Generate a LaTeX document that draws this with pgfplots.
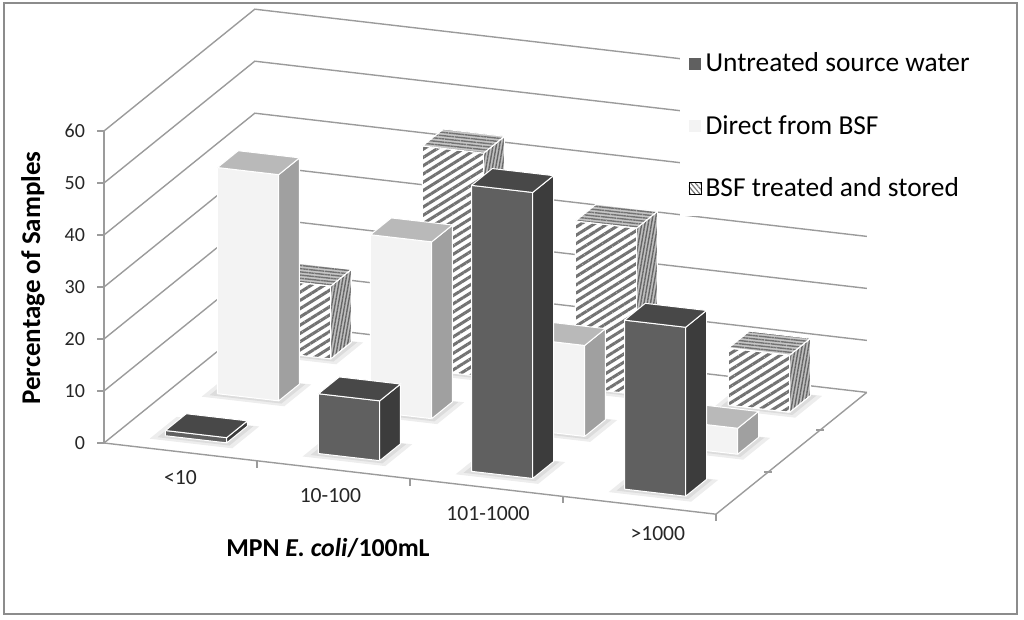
\documentclass[border=0pt]{standalone}
\usepackage{pgfplots}
\pgfplotsset{compat=1.18}
\usepackage{pgfplotstable}
\usepackage{fontspec}
\setmainfont{Carlito}
\usetikzlibrary{patterns.meta}

\definecolor{gridc}{RGB}{155,155,155}
\definecolor{uFront}{RGB}{96,96,96}
\definecolor{uSide}{RGB}{60,60,60}
\definecolor{uTop}{RGB}{72,72,72}
\definecolor{dFront}{RGB}{243,243,243}
\definecolor{dSide}{RGB}{160,160,160}
\definecolor{dTop}{RGB}{185,185,185}
\definecolor{hatch}{RGB}{115,115,115}

% percentage of samples per MPN class (0: <10, 1: 10-100, 2: 101-1000, 3: >1000)
\pgfplotstableread{
c v
0 1
1 11.5
2 55
3 32.5
}\untreated
\pgfplotstableread{
c v
0 43.5
1 34
2 17.5
3 5
}\direct
\pgfplotstableread{
c v
0 14
1 43
2 32
3 11
}\treated

\tikzset{
  uF/.style={fill=uFront, draw=white, line width=0.5pt},
  uS/.style={fill=uSide, draw=white, line width=0.5pt},
  uT/.style={fill=uTop, draw=white, line width=0.5pt},
  dF/.style={fill=dFront, draw=white, line width=0.5pt},
  dS/.style={fill=dSide, draw=white, line width=0.5pt},
  dT/.style={fill=dTop, draw=white, line width=0.5pt},
  tF/.style={fill=white, draw=white, line width=0.5pt,
     postaction={pattern={Lines[angle=32,distance=3.5pt,line width=1.5pt]}, pattern color=hatch}},
  tS/.style={fill=gray!50, draw=white, line width=0.5pt,
     postaction={pattern={Lines[angle=80,distance=1.6pt,line width=0.7pt]}, pattern color=black!60}},
  tT/.style={fill=gray!45, draw=white, line width=0.5pt,
     postaction={pattern={Lines[angle=-6,distance=1.6pt,line width=0.7pt]}, pattern color=black!55}},
  shad/.style={fill=black, draw=none, fill opacity=0.07},
}

\newcommand\drawbar[6]{%
  \pgfmathsetmacro\xa{#1-0.2}%
  \pgfmathsetmacro\xb{#1+0.2}%
  \pgfmathsetmacro\ya{#2-0.2}%
  \pgfmathsetmacro\yb{#2+0.2}%
  \pgfmathsetmacro\sxa{#1-0.27}%
  \pgfmathsetmacro\sxb{#1+0.27}%
  \pgfmathsetmacro\sya{#2-0.3}%
  \pgfmathsetmacro\syb{#2+0.22}%
  \pgfmathsetmacro\txa{#1-0.235}%
  \pgfmathsetmacro\txb{#1+0.235}%
  \pgfmathsetmacro\tya{#2-0.25}%
  \pgfmathsetmacro\tyb{#2+0.21}%
  \addplot3[shad, forget plot] coordinates {(\sxa,\sya,0) (\sxb,\sya,0) (\sxb,\syb,0) (\sxa,\syb,0) (\sxa,\sya,0)};
  \addplot3[shad, forget plot] coordinates {(\txa,\tya,0) (\txb,\tya,0) (\txb,\tyb,0) (\txa,\tyb,0) (\txa,\tya,0)};
  \addplot3[#4, forget plot] coordinates {(\xa,\ya,0) (\xb,\ya,0) (\xb,\ya,#3) (\xa,\ya,#3) (\xa,\ya,0)};
  \addplot3[#5, forget plot] coordinates {(\xb,\ya,0) (\xb,\yb,0) (\xb,\yb,#3) (\xb,\ya,#3) (\xb,\ya,0)};
  \addplot3[#6, forget plot] coordinates {(\xa,\ya,#3) (\xb,\ya,#3) (\xb,\yb,#3) (\xa,\yb,#3) (\xa,\ya,#3)};
}
% pixel position of the reference -> picture position relative to data origin
\newcommand\pxc[2]{([shift={({(#1-206.5)*0.5pt},{(430.9-#2)*0.5pt})}]axis cs:0,0,0)}

\begin{document}
\begin{tikzpicture}
\begin{axis}[
  x={(76.5pt,-8.9pt)}, y={(26pt,21pt)}, z={(0pt,2.6pt)},
  xmin=-0.5, xmax=3.5, ymin=-0.5, ymax=2.4, zmin=0, zmax=60,
  clip=false,
  axis line style={draw=none},
  major tick style={draw=none},
  xtick={0,0.98,2.01,3.12},
  xticklabels={<10,10-100,101-1000,>1000},
  ytick=\empty,
  ztick={0,10,20,30,40,50,60},
  /pgf/number format/assume math mode=true,
  xticklabel style={font=\fontsize{10.8}{12}\selectfont, text=black!85, anchor=center, yshift=-13pt},
  zticklabel style={font=\fontsize{10}{12}\selectfont, text=black!85, anchor=east, xshift=-6pt},
  legend style={at={(axis cs:2.245,2.5,63.4)}, anchor=north west, draw=none, fill=white,
     font=\fontsize{13.7}{16}\selectfont, row sep=16.3pt, inner xsep=4pt, inner ysep=6pt},
  legend cell align=left,
]
% frame and page
\path \pxc{0}{0} rectangle \pxc{1024}{620};
\draw[line width=1.4pt, black!45] \pxc{4}{3} rectangle \pxc{1017}{614};

% walls
\pgfplotsinvokeforeach{0,10,20,30,40,50,60}{
  \draw[gridc, line width=0.7pt] (axis cs:-0.5,-0.5,#1) -- (axis cs:-0.5,2.4,#1) -- (axis cs:3.5,2.4,#1);
  \draw[gridc, line width=0.7pt] (axis cs:-0.5,-0.5,#1) -- ([xshift=-3.5pt]axis cs:-0.5,-0.5,#1);
}
\draw[gridc, line width=0.7pt] (axis cs:-0.5,-0.5,0) -- (axis cs:-0.5,-0.5,60);
\draw[gridc, line width=0.7pt] (axis cs:-0.5,-0.5,0) -- (axis cs:3.5,-0.5,0) -- (axis cs:3.5,2.4,0);
\pgfplotsinvokeforeach{0.5,1.5,2.5,3.5}{
  \draw[gridc, line width=0.7pt] (axis cs:#1,-0.5,0) -- ([yshift=-3.5pt]axis cs:#1,-0.5,0);
}
\pgfplotsinvokeforeach{0.5,1.5}{
  \draw[gridc, line width=0.7pt] ([xshift=-2pt]axis cs:3.5,#1,0) -- ([xshift=2pt]axis cs:3.5,#1,0);
}

% bars: back row first
\pgfplotsinvokeforeach{0,1,2,3}{
  \pgfplotstablegetelem{#1}{v}\of\treated
  \edef\h{\pgfplotsretval}
  \drawbar{#1}{2}{\h}{tF}{tS}{tT}
}
\pgfplotsinvokeforeach{0,1,2,3}{
  \pgfplotstablegetelem{#1}{v}\of\direct
  \edef\h{\pgfplotsretval}
  \drawbar{#1}{1}{\h}{dF}{dS}{dT}
}
\pgfplotsinvokeforeach{0,1,2,3}{
  \pgfplotstablegetelem{#1}{v}\of\untreated
  \edef\h{\pgfplotsretval}
  \drawbar{#1}{0}{\h}{uF}{uS}{uT}
}

\addlegendimage{legend image code/.code={\path[fill=uFront, draw=none] (0pt,-3pt) rectangle (6pt,3pt);}}
\addlegendentry{Untreated source water}
\addlegendimage{legend image code/.code={\path[fill=dFront, draw=none] (0pt,-3pt) rectangle (6pt,3pt);}}
\addlegendentry{Direct from BSF}
\addlegendimage{legend image code/.code={\path[fill=white, draw=none, postaction={pattern={Lines[angle=-50,distance=1.8pt,line width=0.6pt]}, pattern color=hatch}] (0pt,-3pt) rectangle (6pt,3pt);}}
\addlegendentry{BSF treated and stored}

% axis titles
\node[rotate=90, font=\bfseries\fontsize{13.5}{15}\selectfont] at \pxc{33}{278} {Percentage of Samples};
\node[font=\bfseries\fontsize{12.9}{15}\selectfont] at \pxc{328}{548} {MPN \textit{E. coli}/100mL};
\end{axis}
\end{tikzpicture}
\end{document}
